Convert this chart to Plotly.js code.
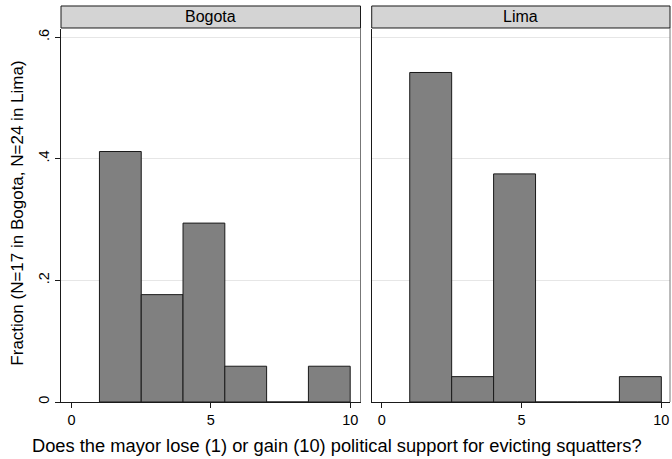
<!DOCTYPE html>
<html>
<head>
<meta charset="utf-8">
<script src="https://cdn.plot.ly/plotly-3.0.1.min.js"></script>
<style>html,body{margin:0;padding:0;background:#fff}#chart{width:672px;height:459px}</style>
</head>
<body>
<div id="chart"></div>
<script>
// Histogram bins (width 1.5, starting at 1)
const binStarts = [1, 2.5, 4, 5.5, 7, 8.5];
const binWidth = 1.5;
const panels = ["Bogota", "Lima"];
const bogotaFrac = [0.4118, 0.1765, 0.2941, 0.0588, 0, 0.0588];
const limaFrac = [0.5417, 0.0417, 0.375, 0, 0, 0.0417];
const yTickVals = [0, 0.2, 0.4, 0.6];
const yTickText = ["0", ".2", ".4", ".6"];
const xTickVals = [0, 5, 10];
const yTitle = "Fraction (N=17 in Bogota, N=24 in Lima)";
const xTitle = "Does the mayor lose (1) or gain (10) political support for evicting squatters?";

const centers = binStarts.map(s => s + binWidth / 2);
const FONT = "Liberation Sans, Arial, Helvetica, sans-serif";
const barStyle = {color: "#808080", line: {color: "#1a1a1a", width: 1}};

const traces = [
  {type: "bar", x: centers, y: bogotaFrac, width: binWidth, marker: barStyle, xaxis: "x", yaxis: "y", hoverinfo: "x+y"},
  {type: "bar", x: centers, y: limaFrac, width: binWidth, marker: barStyle, xaxis: "x2", yaxis: "y2", hoverinfo: "x+y"}
];

const d1 = [0, 0.4918], d2 = [0.5102, 1];
const xBase = {
  tickvals: xTickVals, ticks: "outside", ticklen: 5, tickcolor: "#1a1a1a", tickwidth: 1,
  showline: true, linecolor: "#1a1a1a", linewidth: 1, showgrid: false, zeroline: false,
  tickfont: {family: FONT, size: 14.5, color: "#000"}, fixedrange: true
};
const yBase = {
  range: [0, 0.6132], tickvals: yTickVals, showgrid: true, gridcolor: "#e6e6e6", gridwidth: 1,
  zeroline: false, showline: true, linecolor: "#1a1a1a", linewidth: 1, fixedrange: true
};

const shapes = [];
const annotations = [];
[[d1, panels[0]], [d2, panels[1]]].forEach(([d, name]) => {
  shapes.push({type: "rect", xref: "paper", yref: "paper", x0: d[0], x1: d[1], y0: 1.0027, y1: 1.0617,
    fillcolor: "#d4d4d4", line: {color: "#1a1a1a", width: 1}, layer: "above"});
  shapes.push({type: "line", xref: "paper", yref: "paper", x0: d[1], x1: d[1], y0: 0, y1: 1.0027,
    line: {color: "#777", width: 1}});
  annotations.push({text: name, xref: "paper", yref: "paper", x: (d[0] + d[1]) / 2, y: 1.033,
    showarrow: false, xanchor: "center", yanchor: "middle", font: {family: FONT, size: 16, color: "#000"}});
});
annotations.push({text: xTitle, xref: "paper", yref: "paper", x: 0.453, y: -0.084, showarrow: false,
  xanchor: "center", yanchor: "top", font: {family: FONT, size: 18.3, color: "#000"}});
annotations.push({text: yTitle, xref: "paper", yref: "paper", x: -0.0706, y: 0.505, showarrow: false,
  textangle: -90, xanchor: "center", yanchor: "middle", font: {family: FONT, size: 17, color: "#000"}});

const layout = {
  width: 672, height: 459,
  margin: {l: 61, r: 2, t: 29, b: 57},
  paper_bgcolor: "#fff", plot_bgcolor: "#fff",
  showlegend: false, bargap: 0,
  font: {family: FONT, color: "#000"},
  xaxis: Object.assign({}, xBase, {domain: d1, range: [-0.38, 10.37], anchor: "y"}),
  xaxis2: Object.assign({}, xBase, {domain: d2, range: [-0.36, 10.31], anchor: "y2"}),
  yaxis: Object.assign({}, yBase, {
    anchor: "x", ticktext: yTickText, ticks: "outside", ticklen: 5, tickcolor: "#1a1a1a", tickwidth: 1,
    tickangle: -90, tickfont: {family: FONT, size: 14.5, color: "#000"}
  }),
  yaxis2: Object.assign({}, yBase, {anchor: "x2", showticklabels: false, ticks: ""}),
  shapes: shapes,
  annotations: annotations
};

Plotly.newPlot("chart", traces, layout, {displayModeBar: false, staticPlot: true});
</script>
</body>
</html>
